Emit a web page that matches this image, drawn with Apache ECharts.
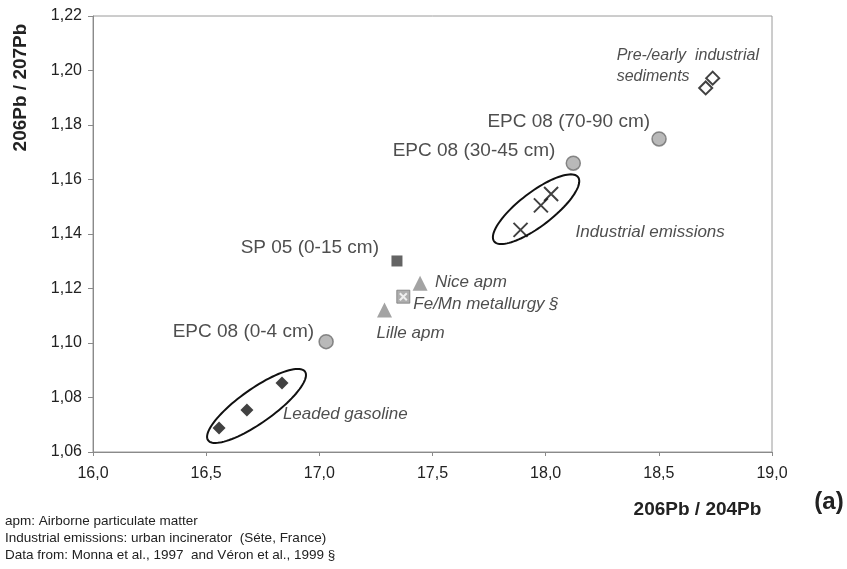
<!DOCTYPE html>
<html>
<head>
<meta charset="utf-8">
<script src="https://cdn.jsdelivr.net/npm/echarts@6/dist/echarts.min.js"></script>
<style>
html,body{margin:0;padding:0;background:#fff;}
#chart{width:847px;height:569px;}
</style>
</head>
<body>
<div id="chart"></div>
<script>
// ---- Data (x = 206Pb/204Pb, y = 206Pb/207Pb) ----
const leadedGasoline = [[16.557, 1.0688], [16.680, 1.0754], [16.835, 1.0853]];
const epc08_0_4 = [[17.030, 1.1005]];
const sp05_0_15 = [[17.343, 1.1301]];
const niceApm = [[17.445, 1.1219]];
const lilleApm = [[17.288, 1.1121]];
const feMnMetallurgy = [[17.371, 1.1170]];
const industrialEmissions = [[17.889, 1.1415], [17.979, 1.1505], [18.024, 1.1547]];
const epc08_30_45 = [[18.122, 1.1660]];
const epc08_70_90 = [[18.501, 1.1749]];
const preIndustrialSediments = [[18.707, 1.1936], [18.738, 1.1972]];

// group ellipses: centre, end of major axis (data units), minor/major ratio
const ellipseCentres = [[16.7225, 1.0769], [17.9576, 1.1491]];
const ellipseMajorEnds = [[16.9367, 1.0895], [18.1429, 1.1609]];
const ellipseRatios = [0.286, 0.32];

const xTicks = [16.0, 16.5, 17.0, 17.5, 18.0, 18.5, 19.0];
const yTicks = [1.06, 1.08, 1.10, 1.12, 1.14, 1.16, 1.18, 1.20, 1.22];

const footnotes = [
  'apm: Airborne particulate matter',
  'Industrial emissions: urban incinerator  (Séte, France)',
  'Data from: Monna et al., 1997  and Véron et al., 1999 §'
];

// ---- Chart ----
const FONT = '"Liberation Sans", Arial, sans-serif';
const chart = echarts.init(document.getElementById('chart'), null, {renderer: 'canvas'});

function lab(text, align, offset, italic, size) {
  return {
    show: true, position: 'inside', formatter: text, align: align, verticalAlign: 'middle',
    offset: offset, color: '#222', fontFamily: FONT, fontSize: size || (italic ? 17 : 19),
    fontStyle: italic ? 'italic' : 'normal', lineHeight: 21
  };
}
function withLabel(arr, idx, label) {
  return arr.map((p, i) => i === idx ? {value: p, label: label} : {value: p});
}

const ellipseData = ellipseCentres.map((c, i) => [c[0], c[1], ellipseMajorEnds[i][0], ellipseMajorEnds[i][1], ellipseRatios[i]]);

const option = {
  animation: false,
  backgroundColor: '#fff',
  grid: {left: 93, right: 75, top: 16, bottom: 117, show: true, borderColor: '#9a9a9a', borderWidth: 1},
  xAxis: {
    type: 'value', min: xTicks[0], max: xTicks[xTicks.length - 1], interval: 0.5,
    axisLine: {show: true, lineStyle: {color: '#8a8a8a', width: 1}},
    axisTick: {show: true, length: 4, lineStyle: {color: '#8a8a8a'}},
    splitLine: {show: false},
    axisLabel: {formatter: v => v.toFixed(1).replace('.', ','), color: '#222', fontSize: 16, fontFamily: FONT, margin: 14}
  },
  yAxis: {
    type: 'value', min: yTicks[0], max: yTicks[yTicks.length - 1], interval: 0.02,
    axisLine: {show: true, lineStyle: {color: '#8a8a8a', width: 1}},
    axisTick: {show: true, length: 5, lineStyle: {color: '#8a8a8a'}},
    splitLine: {show: false},
    axisLabel: {formatter: v => v.toFixed(2).replace('.', ','), color: '#222', fontSize: 16, fontFamily: FONT, margin: 11}
  },
  series: [
    {
      type: 'custom', name: 'groups', silent: true, z: 1,
      data: ellipseData,
      renderItem: function (params, api) {
        const c = api.coord([api.value(0), api.value(1)]);
        const e = api.coord([api.value(2), api.value(3)]);
        const a = Math.hypot(e[0] - c[0], e[1] - c[1]);
        const b = a * api.value(4);
        const th = Math.atan2(e[1] - c[1], e[0] - c[0]);
        const pts = [];
        for (let k = 0; k < 96; k++) {
          const t = k / 96 * Math.PI * 2;
          const ux = a * Math.cos(t), uy = b * Math.sin(t);
          pts.push([c[0] + ux * Math.cos(th) - uy * Math.sin(th), c[1] + ux * Math.sin(th) + uy * Math.cos(th)]);
        }
        return {type: 'polygon', shape: {points: pts}, style: {fill: 'none', stroke: '#111', lineWidth: 2}};
      }
    },
    {
      type: 'scatter', name: 'Leaded gasoline', symbol: 'diamond', symbolSize: 13,
      itemStyle: {color: '#111'},
      data: withLabel(leadedGasoline, 1, lab('Leaded gasoline', 'left', [36, 4], true))
    },
    {
      type: 'scatter', name: 'EPC 08 (0-4 cm)', symbol: 'circle', symbolSize: 14,
      itemStyle: {color: '#a8a8a8', borderColor: '#6e6e6e', borderWidth: 1.5},
      data: withLabel(epc08_0_4, 0, lab('EPC 08 (0-4 cm)', 'right', [-12, -10], false))
    },
    {
      type: 'scatter', name: 'SP 05 (0-15 cm)', symbol: 'rect', symbolSize: 11,
      itemStyle: {color: '#3d3d3d'},
      data: withLabel(sp05_0_15, 0, lab('SP 05 (0-15 cm)', 'right', [-18, -13], false))
    },
    {
      type: 'scatter', name: 'Nice apm', symbol: 'triangle', symbolSize: 15,
      itemStyle: {color: '#8c8c8c'},
      data: withLabel(niceApm, 0, lab('Nice apm', 'left', [15, -1], true))
    },
    {
      type: 'scatter', name: 'Lille apm', symbol: 'triangle', symbolSize: 15,
      itemStyle: {color: '#8c8c8c'},
      data: withLabel(lilleApm, 0, lab('Lille apm', 'left', [-8, 23], true))
    },
    {
      type: 'scatter', name: 'Fe/Mn metallurgy', symbol: 'rect', symbolSize: 13,
      itemStyle: {color: '#9a9a9a', borderColor: '#7a7a7a', borderWidth: 1},
      data: withLabel(feMnMetallurgy, 0, lab('Fe/Mn metallurgy §', 'left', [10, 8], true))
    },
    {
      type: 'scatter', name: 'Fe/Mn mark', symbol: 'path://M0,0L10,10M10,0L0,10', symbolSize: 7,
      itemStyle: {color: 'none', borderColor: '#fff', borderWidth: 2}, z: 3,
      data: feMnMetallurgy
    },
    {
      type: 'scatter', name: 'Industrial emissions', symbol: 'path://M0,0L10,10M10,0L0,10', symbolSize: 14,
      itemStyle: {color: 'none', borderColor: '#111', borderWidth: 2},
      data: withLabel(industrialEmissions, 0, lab('Industrial emissions', 'left', [55, 2], true))
    },
    {
      type: 'scatter', name: 'EPC 08 (30-45 cm)', symbol: 'circle', symbolSize: 14,
      itemStyle: {color: '#a8a8a8', borderColor: '#6e6e6e', borderWidth: 1.5},
      data: withLabel(epc08_30_45, 0, lab('EPC 08 (30-45 cm)', 'right', [-18, -12], false))
    },
    {
      type: 'scatter', name: 'EPC 08 (70-90 cm)', symbol: 'circle', symbolSize: 14,
      itemStyle: {color: '#a8a8a8', borderColor: '#6e6e6e', borderWidth: 1.5},
      data: withLabel(epc08_70_90, 0, lab('EPC 08 (70-90 cm)', 'right', [-9, -17], false))
    },
    {
      type: 'scatter', name: 'Pre-/early industrial sediments', symbol: 'diamond', symbolSize: 13,
      itemStyle: {color: '#fff', borderColor: '#111', borderWidth: 2},
      data: withLabel(preIndustrialSediments, 0, lab('Pre-/early  industrial\nsediments', 'left', [-89, -21.5], true, 16))
    }
  ],
  graphic: [
    {type: 'text', x: 21, y: 87.5, rotation: Math.PI / 2,
     style: {text: '206Pb / 207Pb', font: 'bold 19px ' + FONT, fill: '#222', textAlign: 'center', textVerticalAlign: 'middle', align: 'center', verticalAlign: 'middle'}},
    {type: 'text', x: 697.5, y: 510,
     style: {text: '206Pb / 204Pb', font: 'bold 19px ' + FONT, fill: '#222', textAlign: 'center', textVerticalAlign: 'middle', align: 'center', verticalAlign: 'middle'}},
    {type: 'text', x: 829, y: 502,
     style: {text: '(a)', font: 'bold 24px ' + FONT, fill: '#222', textAlign: 'center', textVerticalAlign: 'middle', align: 'center', verticalAlign: 'middle'}},
  ].concat(footnotes.map((t, i) => ({
    type: 'text', x: 5, y: 521 + i * 17,
    style: {text: t, font: '13.5px ' + FONT, fill: '#222', textAlign: 'left', textVerticalAlign: 'middle', align: 'left', verticalAlign: 'middle'}
  })))
};
chart.setOption(option);
</script>
</body>
</html>
